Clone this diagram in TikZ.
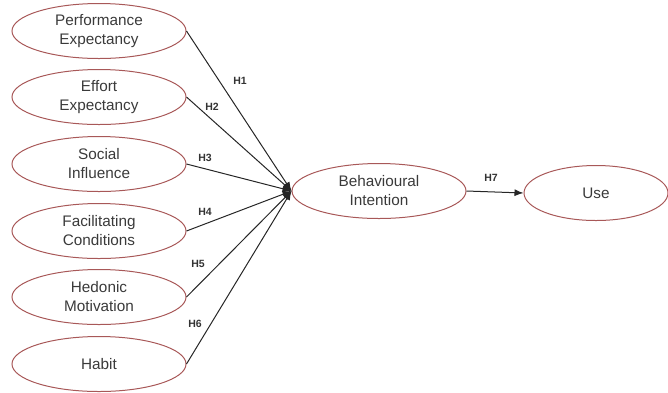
\documentclass[tikz,border=0pt]{standalone}
\usepackage{fontspec}
\setmainfont{Liberation Sans}
\usepackage{xcolor}
\usetikzlibrary{shapes.geometric,arrows.meta}
\definecolor{rimred}{HTML}{A85858}
\definecolor{txtgray}{HTML}{3A3A3A}

\begin{document}
\begin{tikzpicture}[x=1pt,y=-1pt,
  construct/.style={ellipse,draw=rimred,line width=1pt,minimum width=174pt,minimum height=55pt,
    inner sep=0pt,align=center,text=txtgray,font=\fontsize{15.3}{19}\selectfont},
  path/.style={line width=1pt,black!85,-{Latex[length=9pt,width=7pt]}},
  hyp/.style={font=\bfseries\fontsize{10.5}{12}\selectfont,text=black!80,inner sep=1pt}]
\useasboundingbox (0,0) rectangle (668,392);
\node[construct] (pe) at (99,31) {Performance\\Expectancy};
\node[construct] (ee) at (99,97) {Effort\\Expectancy};
\node[construct] (si) at (99,164) {Social\\Influence};
\node[construct] (fc) at (99,231) {Facilitating\\Conditions};
\node[construct] (hm) at (99,297) {Hedonic\\Motivation};
\node[construct] (hb) at (99,364) {Habit};
\node[construct] (bi) at (379,191) {Behavioural\\Intention};
\node[construct,minimum width=144pt] (use) at (596,193) {Use};
\draw[path] (pe.east) -- (bi.west);
\draw[path] (ee.east) -- (bi.west);
\draw[path] (si.east) -- (bi.west);
\draw[path] (fc.east) -- (bi.west);
\draw[path] (hm.east) -- (bi.west);
\draw[path] (hb.east) -- (bi.west);
\draw[path] (bi.east) -- (use.west);
\node[hyp] (h1) at (240,81) {H1};
\node[hyp] (h2) at (212,107) {H2};
\node[hyp] (h3) at (205,158) {H3};
\node[hyp] (h4) at (205,212) {H4};
\node[hyp] (h5) at (198,264) {H5};
\node[hyp] (h6) at (195,324) {H6};
\node[hyp] (h7) at (491,178) {H7};
\end{tikzpicture}
\end{document}
